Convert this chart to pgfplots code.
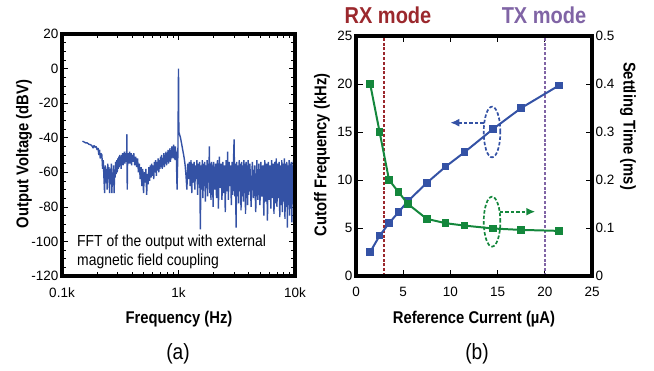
\documentclass[border=0pt]{standalone}
\usepackage{fontspec}
\setmainfont{Liberation Sans}
\newfontfamily\cond{Liberation Sans}[FakeStretch=0.87]
\usepackage{pgfplots}
\pgfplotsset{compat=1.18}
\usetikzlibrary{arrows.meta}
\definecolor{cblue}{RGB}{52,82,165}
\definecolor{cgreen}{RGB}{20,135,60}
\definecolor{rxred}{RGB}{155,40,45}
\definecolor{txpur}{RGB}{128,100,165}
\pgfplotsset{
  myax/.style={
    scale only axis,
    anchor=south west,
    tick align=inside,
    axis line style={line width=1pt},
    every tick/.style={black,line width=0.7pt},
    major tick length=6.5bp,
    minor tick length=4bp,
    tick label style={font=\fontsize{13.5bp}{15bp}\selectfont},
    /pgf/number format/assume math mode=true,
  }
}
\begin{document}
\begin{tikzpicture}[x=1bp,y=1bp]
\path[use as bounding box] (0,0) rectangle (654,370);
% ---------- panel (a)
\begin{axis}[myax,
  at={(62bp,94bp)}, width=233bp, height=242bp,
  xmode=log, xmin=100, xmax=10000, ymin=-120, ymax=20,
  xtick={100,1000,10000}, xticklabels={0.1k,1k,10k},
  ytick={-120,-100,-80,-60,-40,-20,0,20},
  yticklabels={-120,-100,-80,-60,-40,-20,0,20},
  minor y tick num=3,
  xticklabel style={yshift=-8bp},
]
\addplot[cblue, line width=1.4pt, line join=bevel] table {
150 -42
155 -42.5
160 -43
165 -43
170 -43.8
175 -44
180 -44.5
185 -46
188 -44.5
192 -45.5
196 -45
200 -47
204 -46
207 -50
210 -47
213 -52
216 -49
220 -50
223 -58
226 -53
229 -63
232 -72
235 -56
238 -66
241 -58
244 -70
247 -55
250 -64
253 -57
256 -72
259 -58
262 -67
265 -55
268 -72
271 -60
274 -66
277 -56
280 -72
283 -59
286 -63
289 -54
292 -61
295 -53
298 -60
301 -52
304 -58
307 -51
310 -57
313 -50
316 -56
319 -52
322 -58
325 -50
328 -55
331 -49
334 -56
337 -51
340 -54
343 -48
346 -55
349 -50
352 -53
355 -49
358 -54
361 -38
363 -70
366 -52
369 -49
372 -55
375 -50
378 -53
381 -48
384 -55
387 -51
390 -53
393 -49
396 -56
399 -50
405 -54
413 -49
421 -56
429 -51
437 -57
445 -52
453 -60
461 -55
469 -64
477 -57
485 -68
493 -58
501 -72
509 -60
517 -66
525 -58
533 -73
541 -61
549 -67
557 -57
565 -65
573 -56
581 -63
589 -55
597 -62
605 -56
613 -64
621 -54
629 -60
637 -53
645 -62
653 -54
661 -59
669 -52
677 -60
685 -53
693 -58
701 -51
709 -57
717 -50
725 -58
733 -52
741 -56
749 -49
757 -57
765 -50
773 -55
781 -48
789 -56
797 -50
805 -54
813 -47
821 -55
829 -49
837 -53
845 -46
853 -54
861 -48
869 -52
877 -45
885 -51
893 -46
901 -52
909 -44
917 -50
925 -47
933 -53
941 -45
949 -52
957 -48
965 -60
972 -70
980 -58
988 -50
995 -20
1000 0
1005 -30
1010 -37
1020 -38
1040 -40
1060 -43
1080 -46
1100 -49
1120 -52
1140 -56
1160 -62
1180 -70
1200 -55
1220 -64
1240 -54
1260 -68
1280 -53
1300 -72
1320 -55
1340 -66
1360 -54
1380 -70
1400 -56
1420 -64
1440 -53
1460 -73
1480 -55
1500 -67
1520 -54
1540 -93
1560 -56
1580 -70
1600 -53
1620 -75
1640 -55
1660 -68
1680 -54
1700 -77
1720 -56
1740 -69
1760 -53
1780 -74
1800 -55
1820 -66
1840 -45
1860 -72
1880 -55
1900 -76
1920 -54
1940 -68
1960 -56
1980 -80
2000 -54
2040 -70
2080 -55
2120 -75
2160 -53
2200 -81
2240 -51
2280 -69
2320 -55
2360 -76
2400 -54
2440 -72
2480 -56
2520 -83
2560 -53
2600 -71
2640 -48
2680 -76
2720 -54
2760 -68
2800 -56
2840 -79
2880 -54
2920 -73
2960 -55
3000 -41
3040 -74
3080 -55
3120 -92
3160 -54
3200 -74
3240 -56
3280 -78
3320 -53
3360 -71
3400 -55
3440 -82
3480 -54
3520 -74
3560 -56
3600 -77
3640 -53
3680 -72
3720 -55
3760 -84
3800 -54
3840 -75
3880 -56
3920 -79
3960 -53
4000 -73
4100 -55
4200 -80
4300 -54
4400 -75
4500 -56
4600 -83
4700 -53
4800 -76
4900 -55
5000 -79
5100 -54
5200 -74
5300 -56
5400 -85
5500 -53
5600 -77
5700 -55
5800 -88
5900 -54
6000 -76
6100 -56
6200 -81
6300 -53
6400 -75
6500 -55
6600 -84
6700 -54
6800 -78
6900 -52
7000 -80
7100 -55
7200 -75
7300 -54
7400 -86
7500 -56
7600 -79
7700 -53
7800 -83
7900 -55
8000 -77
8100 -52
8200 -87
8300 -55
8400 -80
8500 -54
8600 -92
8700 -56
8800 -79
8900 -53
9000 -85
9100 -55
9200 -81
9300 -54
9400 -89
9500 -56
9600 -78
9700 -53
9800 -84
9900 -55
10000 -74
};
\end{axis}
% ---------- panel (b) left axis
\begin{axis}[myax,
  at={(356bp,94bp)}, width=236bp, height=240bp,
  xmin=0, xmax=25, ymin=0, ymax=25,
  xtick={0,5,10,15,20,25}, ytick={0,5,10,15,20,25},
  ytick pos=left,
  xticklabel style={yshift=-8bp},
]
\addplot[txpur, line width=1.8pt, dash pattern=on 3bp off 1.8bp] coordinates {(20,0) (20,25)};
\addplot[rxred, line width=1.8pt, dash pattern=on 3bp off 1.8bp] coordinates {(3,0) (3,25)};
\addplot[cblue, line width=2pt, mark=square*, mark size=2.8bp] coordinates {
(1.5,2.5) (2.5,4.2) (3.5,5.5) (4.5,6.65) (5.5,7.8) (7.5,9.7) (9.5,11.4)
(11.5,12.9) (14.5,15.3) (17.5,17.5) (21.5,19.85)};
\draw[cblue, line width=1.7pt, dash pattern=on 3.5bp off 2bp] (axis cs:14.41,15) ellipse [x radius=0.88, y radius=2.64];
\draw[cblue, line width=1.7pt, dash pattern=on 3.5bp off 2bp, -{Latex[length=9bp,width=8bp]}] (axis cs:13.52,15.97) -- (axis cs:9.99,15.97);
\draw[cgreen, line width=1.7pt, dash pattern=on 3.5bp off 2bp] (axis cs:14.41,5.66) ellipse [x radius=0.88, y radius=2.6];
\draw[cgreen, line width=1.7pt, dash pattern=on 3.5bp off 2bp, -{Latex[length=9bp,width=8bp]}] (axis cs:15.25,6.7) -- (axis cs:18.99,6.7);
\end{axis}
% ---------- panel (b) right axis
\begin{axis}[myax,
  at={(356bp,94bp)}, width=236bp, height=240bp,
  xmin=0, xmax=25, ymin=0, ymax=0.5,
  axis x line=none, axis y line*=right,
  y axis line style={-},
  ytick={0,0.1,0.2,0.3,0.4,0.5},
  yticklabels={0,0.1,0.2,0.3,0.4,0.5},
]
\addplot[cgreen, line width=2pt, mark=square*, mark size=2.8bp] coordinates {
(1.5,0.4) (2.5,0.3) (3.5,0.2) (4.5,0.175) (5.5,0.15) (7.5,0.119) (9.5,0.11)
(11.5,0.105) (14.5,0.099) (17.5,0.096) (21.5,0.094)};
\end{axis}
% ---------- heavy frames
\draw[black, line width=3.2bp] (62,94) rectangle (295,336);
\draw[black, line width=3.2bp] (356,94) rectangle (592,334);
% ---------- texts
\node[rotate=90, font=\cond\bfseries\fontsize{17bp}{19bp}\selectfont] at (24,216) {Output Voltage (dBV)};
\node[anchor=base, font=\cond\bfseries\fontsize{17bp}{19bp}\selectfont] at (179,47) {Frequency (Hz)};
\node[font=\cond\fontsize{22bp}{24bp}\selectfont] at (178,16.5) {(a)};
\node[anchor=north west, align=left, font=\cond\fontsize{16bp}{18.5bp}\selectfont, inner sep=0pt] at (77,135) {FFT of the output with external\\magnetic field coupling};
\node[rotate=90, font=\cond\bfseries\fontsize{17bp}{19bp}\selectfont] at (322,215) {Cutoff Frequency (kHz)};
\node[rotate=-90, font=\cond\bfseries\fontsize{17bp}{19bp}\selectfont] at (628,244) {Settling Time (ms)};
\node[anchor=base, font=\cond\bfseries\fontsize{17bp}{19bp}\selectfont] at (474,47) {Reference Current (µA)};
\node[font=\cond\fontsize{22bp}{24bp}\selectfont] at (477,16.5) {(b)};
\node[text=rxred, font=\cond\bfseries\fontsize{23bp}{25bp}\selectfont] at (388,355) {RX mode};
\node[text=txpur, font=\cond\bfseries\fontsize{23bp}{25bp}\selectfont] at (544,355) {TX mode};
\end{tikzpicture}
\end{document}
